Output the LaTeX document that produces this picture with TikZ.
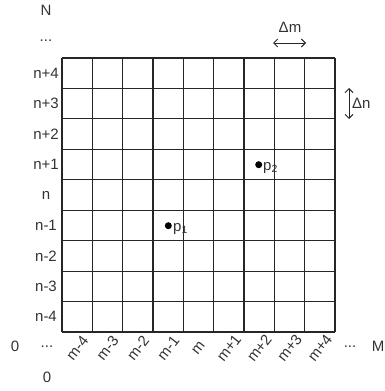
\documentclass[tikz,border=0pt]{standalone}
\usepackage{fontspec}
\setmainfont{Liberation Sans}
\usetikzlibrary{arrows.meta}
\begin{document}
\begin{tikzpicture}[x=1pt,y=-1pt,
  lbl/.style={inner sep=0pt,font=\fontsize{15}{17}\selectfont,text=black!80},
  gridline/.style={draw=black!85,line width=1.2pt},
  dim/.style={draw=black!85,line width=0.9pt,{Straight Barb[length=4pt,width=8pt]}-{Straight Barb[length=4pt,width=8pt]}},
  dot/.style={circle,fill=black,inner sep=0pt,minimum size=7pt}]
\useasboundingbox (0,0) rectangle (384,391);
\def\gx{62}\def\gy{58}\def\cw{30.333}\def\ch{30.444}
% grid
\foreach \i in {0,...,9} {
  \draw[gridline] ({\gx+\i*\cw},\gy) -- ({\gx+\i*\cw},{\gy+9*\ch});
  \draw[gridline] (\gx,{\gy+\i*\ch}) -- ({\gx+9*\cw},{\gy+\i*\ch});
}
% row labels
\foreach \t [count=\i from 0] in {n+4,n+3,n+2,n+1,n,n-1,n-2,n-3,n-4} {
  \node[lbl] (r\i) at (46,{\gy+(\i+0.5)*\ch}) {\t};
}
\node[lbl] (rdots) at (46,41) {...};
\node[lbl] (N) at (46,10) {N};
% column labels
\foreach \t [count=\i from 0] in {m-4,m-3,m-2,m-1,m,m+1,m+2,m+3,m+4} {
  \node[lbl,rotate=52] (c\i) at ({\gx+(\i+0.5)*\cw},348) {\t};
}
\node[lbl] (zeroL) at (15,346) {0};
\node[lbl] (cdotsL) at (47,347) {...};
\node[lbl] (zeroB) at (47,377) {0};
\node[lbl] (cdotsR) at (350,347) {...};
\node[lbl] (M) at (378,346) {M};
% dimension arrows
\coordinate (dmL) at (273,43);
\coordinate (dmR) at (306,43);
\draw[dim] (dmL) -- (dmR);
\node[lbl] (dm) at (290,27) {Δm};
\coordinate (dnT) at (349,88);
\coordinate (dnB) at (349,119);
\draw[dim] (dnT) -- (dnB);
\node[lbl,anchor=west] (dn) at (352,103) {Δn};
% points
\node[dot] (p2) at (258.7,164.7) {};
\node[lbl,anchor=base west] (p2l) at (263,170) {p\textsubscript{2}};
\node[dot] (p1) at (168.3,225.7) {};
\node[lbl,anchor=base west] (p1l) at (173,231) {p\textsubscript{1}};
\end{tikzpicture}
\end{document}
